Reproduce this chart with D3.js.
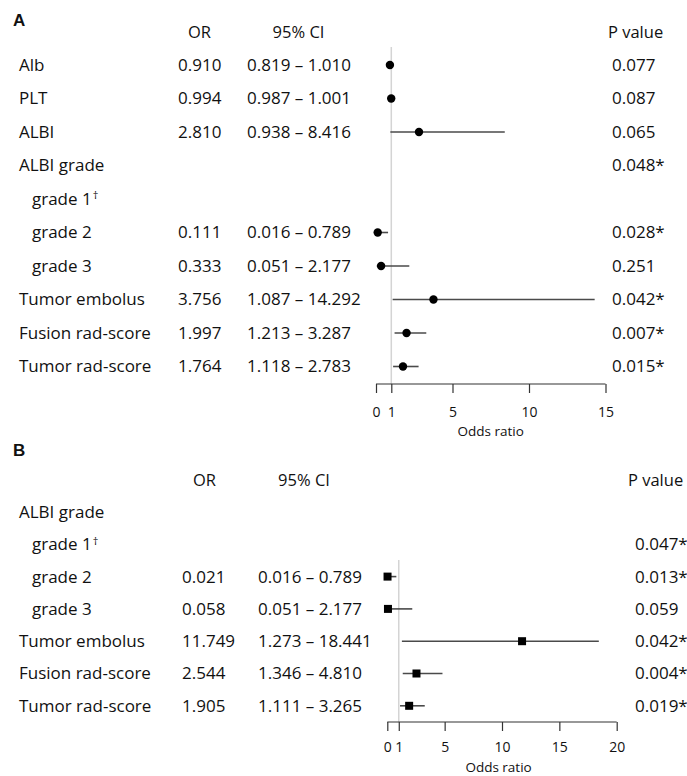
<!DOCTYPE html>
<html>
<head>
<meta charset="utf-8">
<script src="https://cdn.jsdelivr.net/npm/d3@7"></script>
<style>
  body { margin: 0; background: #fff; }
  svg text { font-family: "Open Sans", "Noto Sans", sans-serif; fill: #111; }
  .panel-letter { font-family: "Liberation Sans", Arial, sans-serif !important; font-weight: bold; font-size: 17px; }
</style>
</head>
<body>
<div id="chart"></div>
<script>
// panel A - univariate
let labelsA = ["Alb", "PLT", "ALBI", "ALBI grade", "grade 1", "grade 2", "grade 3",
               "Tumor embolus", "Fusion rad-score", "Tumor rad-score"];
let orA   = [0.910, 0.994, 2.810, null, null, 0.111, 0.333, 3.756, 1.997, 1.764];
let lowA  = [0.819, 0.987, 0.938, null, null, 0.016, 0.051, 1.087, 1.213, 1.118];
let highA = [1.010, 1.001, 8.416, null, null, 0.789, 2.177, 14.292, 3.287, 2.783];
let pA    = ["0.077", "0.087", "0.065", "0.048*", "", "0.028*", "0.251", "0.042*", "0.007*", "0.015*"];
let ticksA = [0, 1, 5, 10, 15];

// panel B - multivariate
let labelsB = ["ALBI grade", "grade 1", "grade 2", "grade 3",
               "Tumor embolus", "Fusion rad-score", "Tumor rad-score"];
let orB   = [null, null, 0.021, 0.058, 11.749, 2.544, 1.905];
let lowB  = [null, null, 0.016, 0.051, 1.273, 1.346, 1.111];
let highB = [null, null, 0.789, 2.177, 18.441, 4.810, 3.265];
let pB    = ["", "0.047*", "0.013*", "0.059", "0.042*", "0.004*", "0.019*"];
let ticksB = [0, 1, 5, 10, 15, 20];

let subLabels = ["grade 1", "grade 2", "grade 3"];
let refLabel = "grade 1";

let W = 687, H = 776;
let fmt = d3.format(".3f");

let svg = d3.select("#chart").append("svg")
    .attr("width", W)
    .attr("height", H);

function draw_forest(cfg) {
    let g = svg.append("g");
    let n = cfg.labels.length;

    let x = d3.scaleLinear().domain(cfg.domain).range(cfg.xRange);
    let y = d3.scalePoint().domain(d3.range(n)).range([cfg.rowTop, cfg.rowTop + cfg.step * (n - 1)]);

    g.append("text")
        .attr("class", "panel-letter")
        .attr("x", 13).attr("y", cfg.letterY)
        .text(cfg.letter);

    // headers
    g.append("text").attr("x", cfg.orHead).attr("y", cfg.headY).attr("dy", "0.35em")
        .attr("text-anchor", "middle").style("font-size", "16.5px").text("OR");
    g.append("text").attr("x", cfg.ciHead).attr("y", cfg.headY).attr("dy", "0.35em")
        .attr("text-anchor", "middle").style("font-size", "16.5px").text("95% CI");
    g.append("text").attr("x", cfg.pHead).attr("y", cfg.headY).attr("dy", "0.35em")
        .style("font-size", "16.5px").text("P value");

    // reference line at OR = 1
    g.append("line")
        .attr("x1", x(1)).attr("x2", x(1))
        .attr("y1", cfg.refTop).attr("y2", cfg.axisY)
        .style("stroke", "#d4d4d4").style("stroke-width", 1.5);

    let rows = g.selectAll(".row")
        .data(d3.range(n))
        .enter().append("g")
        .attr("class", "row")
        .attr("transform", function(i) { return "translate(0," + y(i) + ")"; });

    let lab = rows.append("text")
        .attr("x", function(i) { return subLabels.indexOf(cfg.labels[i]) >= 0 ? 32 : 19; })
        .attr("dy", "0.35em")
        .style("font-size", "17px")
        .text(function(i) { return cfg.labels[i]; });
    lab.filter(function(i) { return cfg.labels[i] === refLabel; })
        .append("tspan")
        .attr("dy", "-0.5em")
        .attr("dx", "1")
        .style("font-size", "11px")
        .text("\u2020");

    rows.append("text")
        .attr("x", cfg.orX).attr("dy", "0.35em")
        .style("font-size", "17px")
        .text(function(i) { return cfg.or[i] == null ? "" : fmt(cfg.or[i]); });

    rows.append("text")
        .attr("x", cfg.ciX).attr("dy", "0.35em")
        .style("font-size", "17px")
        .text(function(i) {
            return cfg.low[i] == null ? "" : fmt(cfg.low[i]) + " \u2013 " + fmt(cfg.high[i]);
        });

    rows.append("text")
        .attr("x", cfg.pX).attr("dy", "0.35em")
        .style("font-size", "17px")
        .text(function(i) { return cfg.p[i]; });

    let est = rows.filter(function(i) { return cfg.or[i] != null; });

    est.append("line")
        .attr("x1", function(i) { return x(cfg.low[i]); })
        .attr("x2", function(i) { return x(cfg.high[i]); })
        .style("stroke", "#4a4a4a").style("stroke-width", 1.6);

    if (cfg.shape === "circle") {
        est.append("circle")
            .attr("cx", function(i) { return x(cfg.or[i]); })
            .attr("r", 4.2)
            .style("fill", "#000");
    } else {
        est.append("rect")
            .attr("x", function(i) { return x(cfg.or[i]) - 4; })
            .attr("y", -4)
            .attr("width", 8).attr("height", 8)
            .style("fill", "#000");
    }

    // x axis
    let axis = g.append("g")
        .attr("transform", "translate(0," + cfg.axisY + ")")
        .call(d3.axisBottom(x).tickValues(cfg.ticks).tickSize(9).tickSizeOuter(0).tickFormat(d3.format("d")));
    axis.select(".domain").style("stroke", "#333").style("stroke-width", 1.2)
        .attr("d", "M" + x(cfg.domain[0]) + ",0H" + x(cfg.domain[1]));
    axis.selectAll(".tick line").style("stroke", "#333").style("stroke-width", 1.2);
    axis.selectAll(".tick text")
        .attr("y", cfg.tickDy).attr("dy", "0.35em")
        .style("font-family", "'Open Sans', sans-serif")
        .style("font-size", "14px")
        .style("fill", "#111");

    g.append("text")
        .attr("x", x(cfg.titleAt)).attr("y", cfg.axisY + cfg.titleDy).attr("dy", "0.35em")
        .attr("text-anchor", "middle")
        .style("font-size", "13.5px")
        .text("Odds ratio");
}

draw_forest({
    letter: "A", letterY: 26,
    labels: labelsA, or: orA, low: lowA, high: highA, p: pA, ticks: ticksA,
    domain: [0, 15], xRange: [376, 605.5], titleAt: 7.5, tickDy: 28, titleDy: 47,
    rowTop: 65, step: 33.5, headY: 32, refTop: 47, axisY: 384,
    orHead: 199.5, ciHead: 298.5, pHead: 608,
    orX: 178, ciX: 247, pX: 612,
    shape: "circle"
});

draw_forest({
    letter: "B", letterY: 456,
    labels: labelsB, or: orB, low: lowB, high: highB, p: pB, ticks: ticksB,
    domain: [0, 20], xRange: [387.3, 616.7], titleAt: 9.7, tickDy: 25, titleDy: 45,
    rowTop: 512, step: 32.3, headY: 480, refTop: 560, axisY: 722,
    orHead: 204.5, ciHead: 304, pHead: 628,
    orX: 182, ciX: 258, pX: 635,
    shape: "square"
});
</script>
</body>
</html>
